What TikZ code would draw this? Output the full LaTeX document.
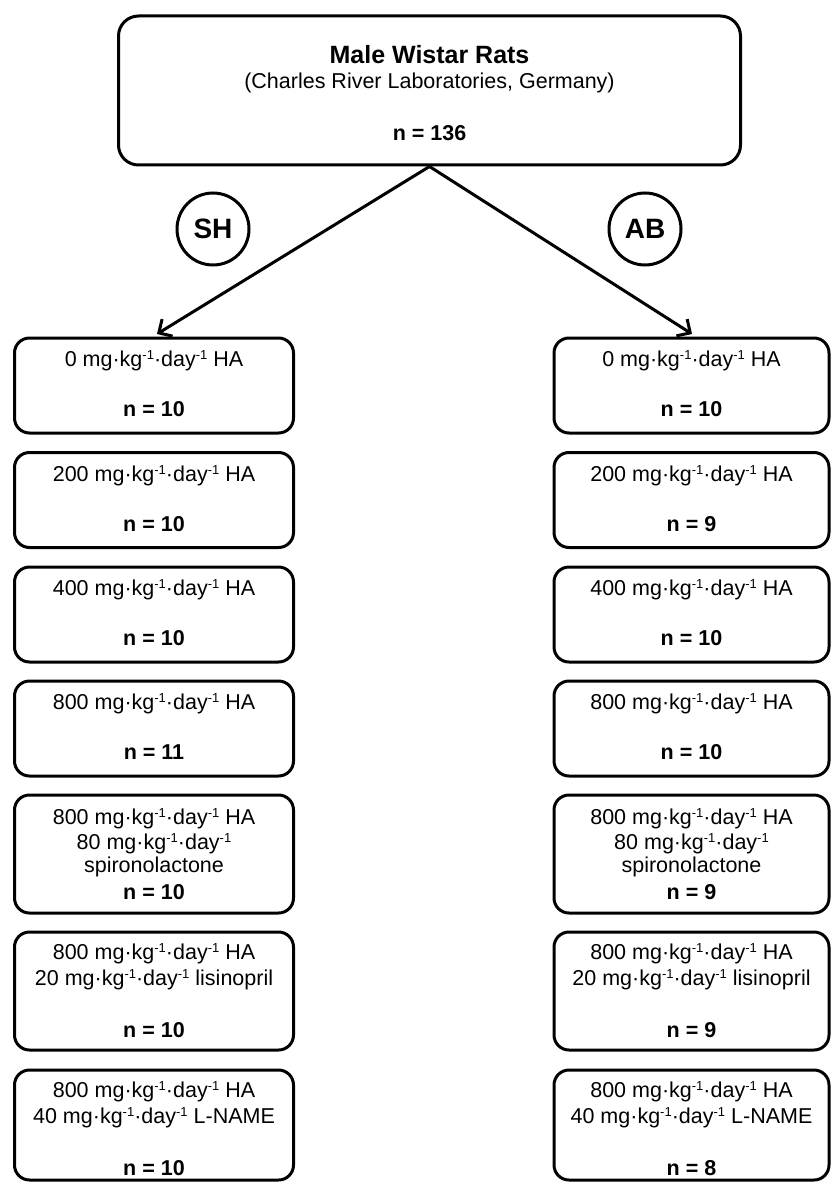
\documentclass[tikz,border=0pt]{standalone}
\usepackage{fontspec}
\setmainfont{Liberation Sans}
\usetikzlibrary{arrows.meta}
\newcommand\spx[1]{\raisebox{7pt}{\fontsize{13}{13}\selectfont #1}}
\newcommand\mkd{mg·kg\spx{-1}·day\spx{-1}}
\newcommand\gbox[5]{\node[grpbox, minimum width=#4pt, minimum height=#5pt] (#1) at (#2,#3+1.5) {};}
\newcommand\gline[4]{\node[txt] (#1) at (#2,#3) {#4};}
\newcommand\nline[4]{\node[ntxt] (#1) at (#2,#3) {#4};}
\begin{document}
\begin{tikzpicture}[x=1pt,y=-1pt,line width=3pt,
  grpbox/.style={draw, rounded corners=15pt, inner sep=0pt, anchor=north},
  topbox/.style={draw, rounded corners=20pt, inner sep=0pt, anchor=north},
  txt/.style={anchor=base, inner sep=0pt, font=\fontsize{21.5}{25}\selectfont},
  ntxt/.style={anchor=base, inner sep=0pt, font=\fontsize{21.5}{25}\selectfont\bfseries},
  ttl/.style={anchor=base, inner sep=0pt, font=\fontsize{25}{28}\selectfont\bfseries},
  grpcirc/.style={draw, circle, minimum size=72pt, inner sep=0pt, font=\fontsize{28}{28}\selectfont\bfseries},
  arr/.style={-{Straight Barb[length=10pt,width=20pt]}}]
\useasboundingbox (0,0) rectangle (832,1182);

% top box
\node[topbox, minimum width=622pt, minimum height=149pt] (top) at (429.5,14.5) {};
\node[ttl] (title) at (429.5,64) {Male Wistar Rats};
\gline{sub}{429.5}{89}{(Charles River Laboratories, Germany)}
\nline{ntop}{429.5}{141}{n = 136}

% group circles
\node[grpcirc] (SH) at (213,229) {SH};
\node[grpcirc] (AB) at (645,229) {AB};

% left column (SH)
\gbox{L1}{154}{335}{279}{95}
\gline{L1a}{154}{335+31.5}{0 \mkd{} HA}
\nline{L1n}{154}{335+81.5}{n = 10}

\gbox{L2}{154}{449.5}{279}{95}
\gline{L2a}{154}{449.5+31.5}{200 \mkd{} HA}
\nline{L2n}{154}{449.5+81.5}{n = 10}

\gbox{L3}{154}{564}{279}{95}
\gline{L3a}{154}{564+31.5}{400 \mkd{} HA}
\nline{L3n}{154}{564+81.5}{n = 10}

\gbox{L4}{154}{678}{279}{95}
\gline{L4a}{154}{678+31.5}{800 \mkd{} HA}
\nline{L4n}{154}{678+81.5}{n = 11}

\gbox{L5}{154}{792}{279}{118}
\gline{L5a}{154}{792+32}{800 \mkd{} HA}
\gline{L5b}{154}{792+57}{80 \mkd}
\gline{L5c}{154}{792+80.5}{spironolactone}
\nline{L5n}{154}{792+107}{n = 10}

\gbox{L6}{154}{929}{279}{118}
\gline{L6a}{154}{929+30.5}{800 \mkd{} HA}
\gline{L6b}{154}{929+56}{20 \mkd{} lisinopril}
\nline{L6n}{154}{929+108}{n = 10}

\gbox{L7}{154}{1067}{279}{110}
\gline{L7a}{154}{1067+30.5}{800 \mkd{} HA}
\gline{L7b}{154}{1067+56}{40 \mkd{} L-NAME}
\nline{L7n}{154}{1067+108}{n = 10}

% right column (AB)
\gbox{R1}{691.5}{335}{275}{95}
\gline{R1a}{691.5}{335+31.5}{0 \mkd{} HA}
\nline{R1n}{691.5}{335+81.5}{n = 10}

\gbox{R2}{691.5}{449.5}{275}{95}
\gline{R2a}{691.5}{449.5+31.5}{200 \mkd{} HA}
\nline{R2n}{691.5}{449.5+81.5}{n = 9}

\gbox{R3}{691.5}{564}{275}{95}
\gline{R3a}{691.5}{564+31.5}{400 \mkd{} HA}
\nline{R3n}{691.5}{564+81.5}{n = 10}

\gbox{R4}{691.5}{678}{275}{95}
\gline{R4a}{691.5}{678+31.5}{800 \mkd{} HA}
\nline{R4n}{691.5}{678+81.5}{n = 10}

\gbox{R5}{691.5}{792}{275}{118}
\gline{R5a}{691.5}{792+32}{800 \mkd{} HA}
\gline{R5b}{691.5}{792+57}{80 \mkd}
\gline{R5c}{691.5}{792+80.5}{spironolactone}
\nline{R5n}{691.5}{792+107}{n = 9}

\gbox{R6}{691.5}{929}{275}{118}
\gline{R6a}{691.5}{929+30.5}{800 \mkd{} HA}
\gline{R6b}{691.5}{929+56}{20 \mkd{} lisinopril}
\nline{R6n}{691.5}{929+108}{n = 9}

\gbox{R7}{691.5}{1067}{275}{110}
\gline{R7a}{691.5}{1067+30.5}{800 \mkd{} HA}
\gline{R7b}{691.5}{1067+56}{40 \mkd{} L-NAME}
\nline{R7n}{691.5}{1067+108}{n = 8}

% connectors
\coordinate (tipL) at (157,334);
\coordinate (tipR) at (692,334);
\draw[arr] (top.south) -- (tipL);
\draw[arr] (top.south) -- (tipR);
\end{tikzpicture}
\end{document}
